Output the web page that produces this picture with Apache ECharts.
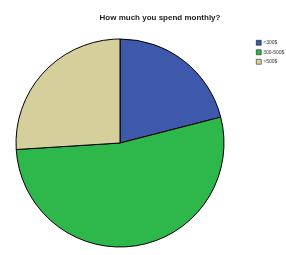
<!DOCTYPE html>
<html>
<head>
<meta charset="utf-8">
<script src="https://cdn.jsdelivr.net/npm/echarts@6/dist/echarts.min.js"></script>
<style>
  html, body { margin: 0; padding: 0; background: #fff; }
  #main { width: 286px; height: 255px; }
</style>
</head>
<body>
<div id="main"></div>
<script>
// monthly spending shares
var categories = ['<300$', '300-500$', '>500$']
var values = [21, 53, 26]
var colors = ['#3e58ac', '#2eb84b', '#d4cf9b']

var chart = echarts.init(document.getElementById('main'))
var option = {
  animation: false,
  title: {
    text: 'How much you spend monthly?',
    left: 155,
    top: 9,
    textAlign: 'center',
    textStyle: { fontFamily: 'Liberation Sans', fontSize: 8, fontWeight: 'bold', color: '#222' }
  },
  legend: {
    orient: 'vertical',
    left: 256,
    top: 40,
    padding: 0,
    itemWidth: 5,
    itemHeight: 5,
    itemGap: 4,
    icon: 'rect',
    itemStyle: { borderColor: '#000', borderWidth: 0.5 },
    textStyle: { fontFamily: 'Liberation Sans', fontSize: 5, color: '#333', padding: [0, 0, 0, -3] },
    data: categories
  },
  series: [{
    type: 'pie',
    center: [120, 143],
    radius: 104,
    startAngle: 90,
    clockwise: true,
    label: { show: false },
    labelLine: { show: false },
    emphasis: { disabled: true },
    itemStyle: { borderColor: '#000', borderWidth: 1 },
    data: categories.map(function(c, i) {
      return { name: c, value: values[i], itemStyle: { color: colors[i] } }
    })
  }]
}
chart.setOption(option)
</script>
</body>
</html>
